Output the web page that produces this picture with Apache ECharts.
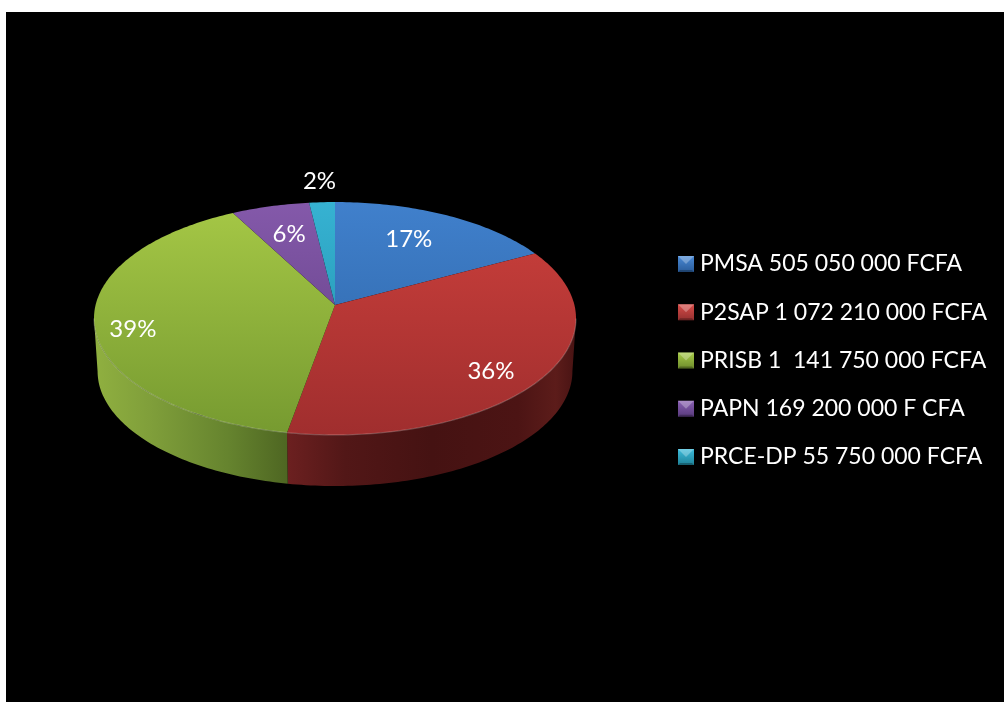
<!DOCTYPE html>
<html><head><meta charset="utf-8">
<style>
html,body{margin:0;padding:0;background:#fff;width:1004px;height:702px;overflow:hidden}
#frame{position:absolute;left:6px;top:12px;width:998px;height:690px;background:#000}
#main{position:absolute;left:0;top:0;width:1004px;height:702px}
</style>
<script src="https://cdn.jsdelivr.net/npm/echarts@6/dist/echarts.min.js"></script>
</head><body><div id="frame"></div><div id="main"></div>
<script>
const categories = ['PMSA 505 050 000 FCFA','P2SAP 1 072 210 000 FCFA','PRISB 1  141 750 000 FCFA','PAPN 169 200 000 F CFA','PRCE-DP 55 750 000 FCFA'];
const values = [505050000,1072210000,1141750000,169200000,55750000];
const percentLabels = ['17%','36%','39%','6%','2%'];
const labelReach = [0.707,0.81,0.848,0.70,1.248];
const labelTurn = [-3,3.7,-6,0,0];
const topColors = [['#4080cc','#2c62a2'],['#cc403c','#a02e2e'],['#a6c846','#769a30'],['#8459aa','#5e3c80'],['#36b2d2','#1f8ca6']];
const swatchColors = [['#4a8ad6','#2a5c9a'],['#d84c48','#943030'],['#a8cc48','#6e8c2c'],['#8a60b4','#583a7c'],['#3cbcdc','#1f8298']];
const wallStops = [null,
  [{offset:0,color:'#6c2020'},{offset:0.2,color:'#521717'},{offset:0.5,color:'#451212'},{offset:0.8,color:'#4c1414'},{offset:0.93,color:'#5c1c1a'},{offset:1,color:'#481313'}],
  [{offset:0,color:'#90b040'},{offset:0.3,color:'#7f9e3a'},{offset:0.7,color:'#65832e'},{offset:1,color:'#4e6622'}],
  null,null];

const cx=335, cy=305, A=239.4, B=114.9, k=0.1159, depth=53, shrink=0.985;
const limitR=96.7, limitL=263.3;
const legendLeft=678, legendRowTop=256, legendStep=48.25, swatch=16;
const total=values.reduce((a,b)=>a+b,0);
const starts=[]; values.reduce((s,v,i)=>{starts[i]=s;return s+v/total*360;},0);

function skew(deg){
  const t=deg*Math.PI/180;
  return deg-1.25*(1-Math.cos(t))+0.8*Math.sin(t);
}
function project(deg,r){
  const t=deg*Math.PI/180, u=r*Math.sin(t), v=-r*Math.cos(t), w=1/(1-k*v);
  return [cx+A*u*w, cy+B*v*w];
}
function lower(p){return [cx+(p[0]-cx)*shrink, cy+depth+(p[1]-cy)*shrink];}
function arc(a0,a1){
  const pts=[], n=Math.max(2,Math.ceil(Math.abs(a1-a0)));
  for(let i=0;i<=n;i++) pts.push(project(a0+(a1-a0)*i/n,1));
  return pts;
}
const LG=echarts.graphic.LinearGradient;

function makeRender(idx){
  return function(params,api){
    const sweep=api.value(0)/total*360, raw0=starts[idx], raw1=raw0+sweep;
    const a0=skew(raw0), a1=skew(raw1);
    const children=[];
    const w0=Math.max(a0,limitR), w1=Math.min(a1,limitL);
    if(w1>w0 && wallStops[idx]){
      const edge=arc(w0,w1);
      const wall=edge.concat(edge.map(lower).reverse());
      const xs=wall.map(p=>p[0]), xa=Math.min(...xs), xb=Math.max(...xs);
      children.push({type:'polygon',shape:{points:wall},silent:true,
        style:{fill:new LG(xa,0,xb,0,wallStops[idx],true),stroke:null}});
    }
    const top=[[cx,cy]].concat(arc(a0,a1));
    children.push({type:'polygon',shape:{points:top},silent:true,
      style:{fill:new LG(0,cy-103,0,cy+130,[{offset:0,color:topColors[idx][0]},{offset:1,color:topColors[idx][1]}],true),stroke:null}});
    if(w1>w0 && wallStops[idx]){
      children.push({type:'polyline',shape:{points:arc(w0,w1)},silent:true,
        style:{fill:null,stroke:'rgba(255,255,255,0.22)',lineWidth:1.2}});
    }
    const lp=project((raw0+raw1)/2+labelTurn[idx],labelReach[idx]);
    children.push({type:'text',silent:true,z2:10,style:{x:lp[0],y:lp[1]+1,text:percentLabels[idx],fill:'#fff',
      font:'24px Lato, Carlito, sans-serif',align:'center',verticalAlign:'middle'}});
    return {type:'group',children};
  };
}

const bevels=[];
categories.forEach((c,i)=>{
  const x=legendLeft, y=legendRowTop+i*legendStep, s=swatch;
  bevels.push({type:'polygon',z:20,silent:true,shape:{points:[[x,y],[x+s,y],[x+s/2,y+s/2]]},style:{fill:'rgba(255,255,255,0.28)'}});
  bevels.push({type:'polygon',z:20,silent:true,shape:{points:[[x,y+s],[x+s,y+s],[x+s-2,y+s-2],[x+2,y+s-2]]},style:{fill:'rgba(0,0,0,0.28)'}});
});

const chart=echarts.init(document.getElementById('main'),null,{renderer:'canvas'});
chart.setOption({
  backgroundColor:'transparent',
  animation:false,
  legend:{
    orient:'vertical',left:legendLeft-5,top:legendRowTop-4-5,itemWidth:swatch,itemHeight:swatch,itemGap:legendStep-24,
    icon:'rect',selectedMode:false,
    textStyle:{color:'#fff',fontFamily:'Lato, Carlito, sans-serif',fontSize:23,lineHeight:24,padding:[0,0,0,1]},
    data:categories.map((c,i)=>({name:c,icon:'rect',itemStyle:{color:new LG(0,0,0,1,[{offset:0,color:swatchColors[i][0]},{offset:1,color:swatchColors[i][1]}])}}))
  },
  graphic:bevels,
  series:categories.map((c,i)=>({
    type:'custom',name:c,coordinateSystem:'none',data:[[values[i]]],
    renderItem:makeRender(i),
    itemStyle:{color:topColors[i][0]},
    clip:false
  }))
});
</script></body></html>
